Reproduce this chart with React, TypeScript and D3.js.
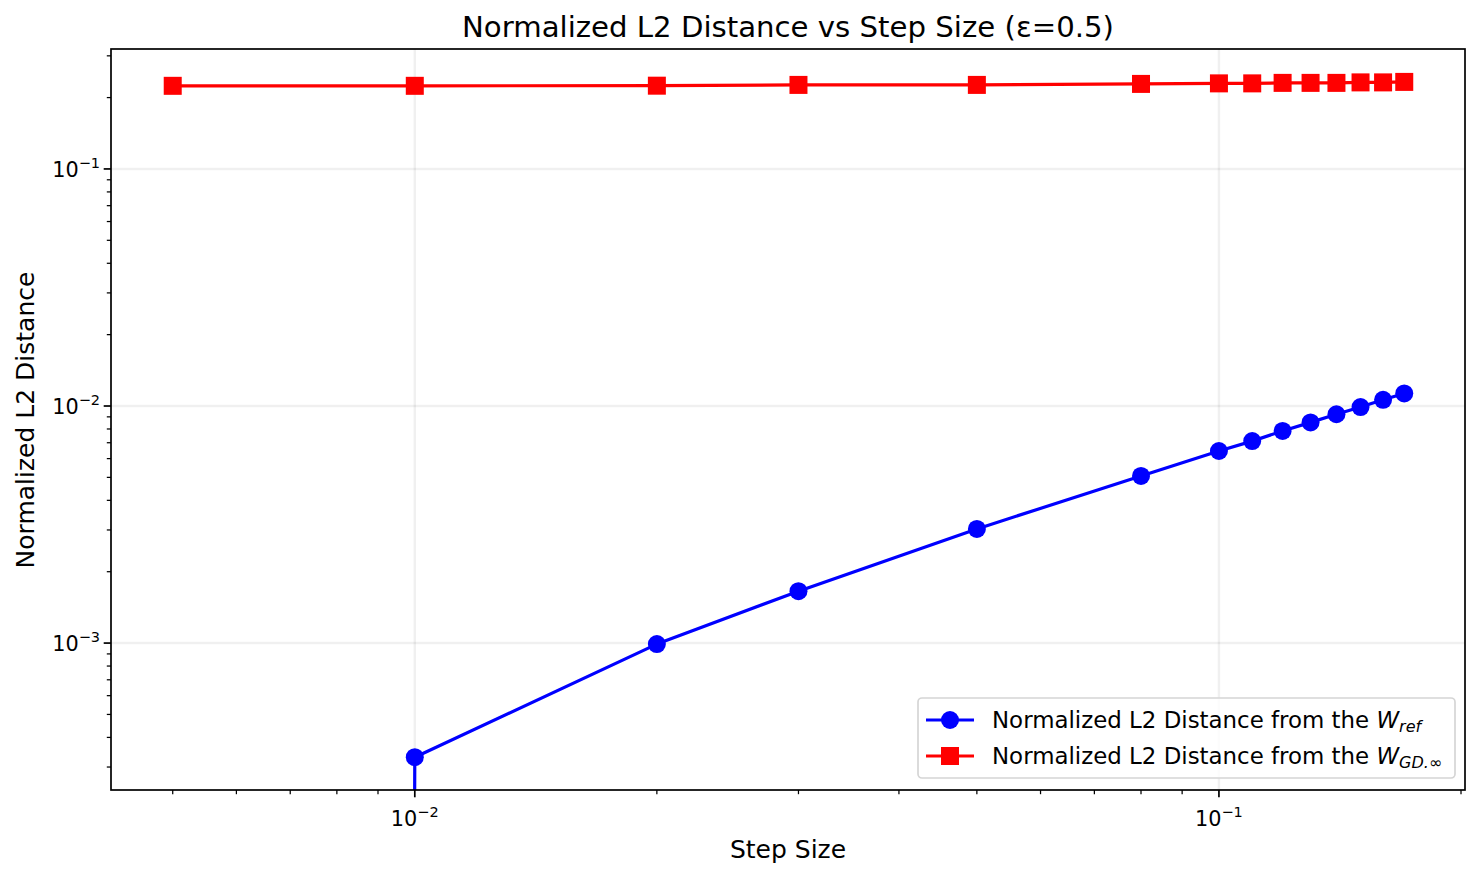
import React from "react";
import * as d3 from "d3";

const stepSizes = [0.005, 0.01, 0.02, 0.03, 0.05, 0.08, 0.1, 0.11, 0.12, 0.13, 0.14, 0.15, 0.16, 0.17];
const distRef = [0, 0.00033, 0.00099, 0.001655, 0.00303, 0.00507, 0.00646, 0.00711, 0.00785, 0.00853, 0.00923, 0.0099, 0.01062, 0.0113];
const distGD = [0.2242, 0.2242, 0.2245, 0.2262, 0.2262, 0.2284, 0.2296, 0.2296, 0.2307, 0.2307, 0.2307, 0.2318, 0.2318, 0.2329];
const xMajorTicks = [0.01, 0.1];
const yMajorTicks = [0.001, 0.01, 0.1];
const xTickExps = ["−2", "−1"];
const yTickExps = ["−3", "−2", "−1"];

const W = 1481, H = 878;
const L = 111, R = 1465, T = 49, B = 790;
const FONT = "DejaVu Sans, sans-serif";

export default function App() {
  const x = d3.scaleLog().domain([0.00419, 0.2023]).range([L, R]);
  const y = d3.scaleLog().domain([0.00024, 0.3206]).range([B, T]);

  const minorX: number[] = [];
  for (let e = -3; e <= -1; e++) for (let m = 2; m <= 9; m++) {
    const v = m * Math.pow(10, e);
    if (v >= x.domain()[0] && v <= x.domain()[1]) minorX.push(v);
  }
  const minorY: number[] = [];
  for (let e = -4; e <= -1; e++) for (let m = 2; m <= 9; m++) {
    const v = m * Math.pow(10, e);
    if (v >= y.domain()[0] && v <= y.domain()[1]) minorY.push(v);
  }

  const line = d3.line<number>()
    .x((_, i) => x(stepSizes[i]))
    .y((d) => y(Math.max(d, 1e-300)));

  const refPath = line(distRef) || "";
  const gdPath = line(distGD) || "";

  const blue = "#0000ff";
  const red = "#ff0000";
  const ms = 18;
  const lw = 3.2;

  return (
    <svg width={W} height={H} style={{ position: "absolute", left: 0, top: 0, background: "#fff" }} fontFamily={FONT}>
      <defs>
        <clipPath id="plotclip">
          <rect x={L} y={T} width={R - L} height={B - T} />
        </clipPath>
      </defs>
      <rect x={0} y={0} width={W} height={H} fill="#fff" />
      {/* grid */}
      <g stroke="#000" strokeOpacity={0.06} strokeWidth={2.5}>
        {xMajorTicks.map((t) => <line key={"gx" + t} x1={x(t)} x2={x(t)} y1={T} y2={B} />)}
        {yMajorTicks.map((t) => <line key={"gy" + t} x1={L} x2={R} y1={y(t)} y2={y(t)} />)}
      </g>
      {/* data */}
      <g clipPath="url(#plotclip)">
        <path d={refPath} fill="none" stroke={blue} strokeWidth={lw} strokeLinejoin="round" />
        {distRef.map((d, i) => d > 0 ? (
          <circle key={"c" + i} cx={x(stepSizes[i])} cy={y(d)} r={ms / 2} fill={blue} />
        ) : null)}
        <path d={gdPath} fill="none" stroke={red} strokeWidth={lw} strokeLinejoin="round" />
        {distGD.map((d, i) => (
          <rect key={"s" + i} x={x(stepSizes[i]) - ms / 2} y={y(d) - ms / 2} width={ms} height={ms} fill={red} />
        ))}
      </g>
      {/* axes spines */}
      <rect x={L} y={T} width={R - L} height={B - T} fill="none" stroke="#000" strokeWidth={1.7} />
      {/* ticks */}
      <g stroke="#000">
        {xMajorTicks.map((t) => <line key={"xt" + t} x1={x(t)} x2={x(t)} y1={B} y2={B + 7.3} strokeWidth={1.7} />)}
        {minorX.map((t) => <line key={"xm" + t} x1={x(t)} x2={x(t)} y1={B} y2={B + 4.2} strokeWidth={1.25} />)}
        {yMajorTicks.map((t) => <line key={"yt" + t} x1={L - 7.3} x2={L} y1={y(t)} y2={y(t)} strokeWidth={1.7} />)}
        {minorY.map((t) => <line key={"ym" + t} x1={L - 4.2} x2={L} y1={y(t)} y2={y(t)} strokeWidth={1.25} />)}
      </g>
      {xMajorTicks.map((t, i) => (
        <text key={"xl" + t} x={x(t)} y={826} textAnchor="middle" fontSize={20.8} fill="#000">
          10<tspan fontSize={14.5} dy={-9}>{xTickExps[i]}</tspan>
        </text>
      ))}
      {yMajorTicks.map((t, i) => (
        <text key={"yl" + t} x={100} y={y(t) + 8} textAnchor="end" fontSize={20.8} fill="#000">
          10<tspan fontSize={14.5} dy={-9}>{yTickExps[i]}</tspan>
        </text>
      ))}
      {/* labels */}
      <text x={788} y={37} textAnchor="middle" fontSize={29.2} fill="#000">Normalized L2 Distance vs Step Size (ε=0.5)</text>
      <text x={788} y={858} textAnchor="middle" fontSize={25} fill="#000">Step Size</text>
      <text transform={`translate(34,${420}) rotate(-90)`} textAnchor="middle" fontSize={25} fill="#000">Normalized L2 Distance</text>
      {/* legend */}
      <g>
        <rect x={918} y={698} width={537} height={80} rx={4} fill="#fff" fillOpacity={0.8} stroke="#d5d5d5" strokeWidth={1.7} />
        <line x1={926} x2={974} y1={720} y2={720} stroke={blue} strokeWidth={lw} />
        <circle cx={950} cy={720} r={ms / 2} fill={blue} />
        <text x={992} y={728} fontSize={22.9} fill="#000">
          Normalized L2 Distance from the <tspan fontStyle="italic">W</tspan><tspan fontStyle="italic" fontSize={16} dy={4}>ref</tspan>
        </text>
        <line x1={926} x2={974} y1={756} y2={756} stroke={red} strokeWidth={lw} />
        <rect x={950 - ms / 2} y={756 - ms / 2} width={ms} height={ms} fill={red} />
        <text x={992} y={764} fontSize={22.9} fill="#000">
          Normalized L2 Distance from the <tspan fontStyle="italic">W</tspan><tspan fontStyle="italic" fontSize={16} dy={4}>GD.∞</tspan>
        </text>
      </g>
    </svg>
  );
}
